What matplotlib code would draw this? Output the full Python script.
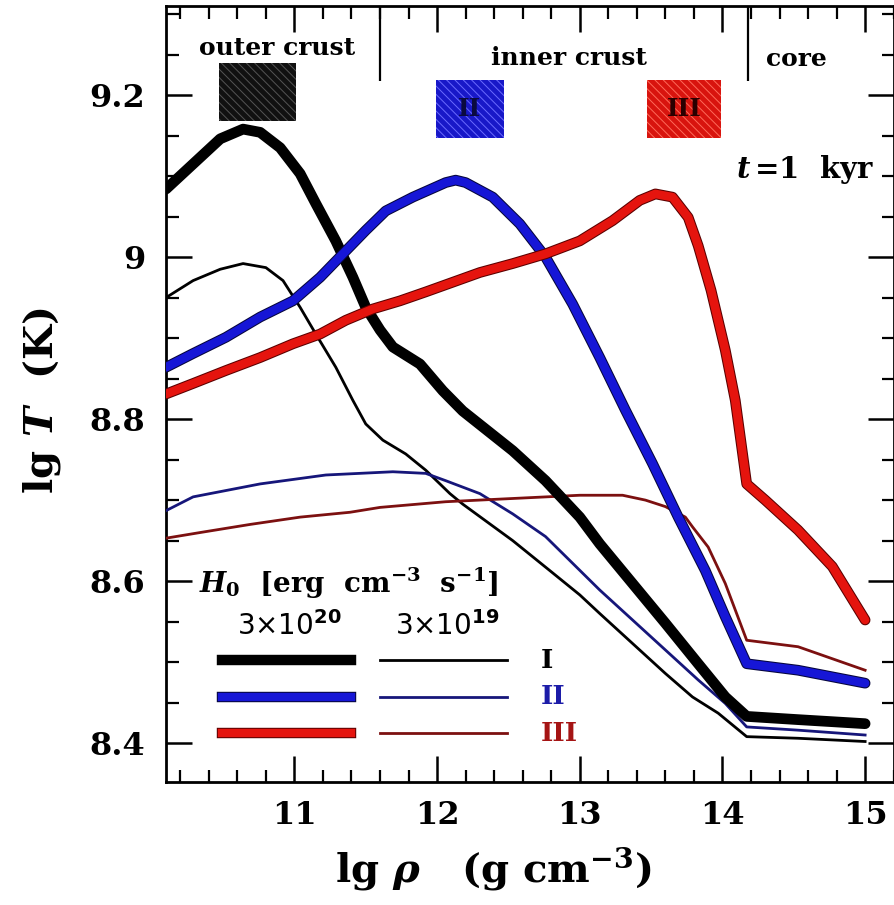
import matplotlib
matplotlib.use('Agg')
import matplotlib.pyplot as plt
import matplotlib.patheffects as pe
from matplotlib.patches import Rectangle
from matplotlib.ticker import MultipleLocator, FixedLocator

plt.rcParams['font.family'] = ['DejaVu Serif']
plt.rcParams['font.weight'] = 'bold'
plt.rcParams['mathtext.fontset'] = 'dejavuserif'
plt.rcParams['hatch.linewidth'] = 0.7

# lg rho [g/cm^3] and lg T [K] at t = 1 kyr
# heater I
rho_I_hi = [10.10, 10.29, 10.48, 10.64, 10.76, 10.90, 11.04, 11.15, 11.29, 11.41, 11.50, 11.60, 11.69,
            11.88, 12.04, 12.18, 12.53, 12.76, 13.00, 13.14, 13.37, 13.60, 13.83, 14.02, 14.17, 14.53, 15.00]
T_I_hi = [9.084, 9.115, 9.146, 9.158, 9.154, 9.135, 9.103, 9.066, 9.020, 8.975, 8.938, 8.910, 8.889,
          8.868, 8.835, 8.810, 8.761, 8.724, 8.679, 8.646, 8.597, 8.548, 8.498, 8.457, 8.433, 8.429, 8.424]
rho_I_lo = [10.10, 10.29, 10.48, 10.64, 10.80, 10.92, 11.04, 11.15, 11.29, 11.41, 11.50, 11.62, 11.78,
            11.92, 12.09, 12.18, 12.53, 12.79, 13.00, 13.14, 13.37, 13.60, 13.79, 13.97, 14.17, 14.53, 15.00]
T_I_lo = [8.950, 8.971, 8.985, 8.992, 8.987, 8.971, 8.938, 8.905, 8.864, 8.823, 8.794, 8.774, 8.757,
          8.737, 8.708, 8.695, 8.650, 8.613, 8.583, 8.560, 8.523, 8.486, 8.457, 8.437, 8.408, 8.406, 8.402]
# heater II
rho_II_hi = [10.10, 10.29, 10.52, 10.76, 10.99, 11.18, 11.34, 11.50, 11.64, 11.83, 12.06, 12.13, 12.20,
             12.39, 12.58, 12.76, 12.95, 13.14, 13.32, 13.51, 13.69, 13.88, 14.02, 14.17, 14.53, 15.00]
T_II_hi = [8.864, 8.881, 8.901, 8.926, 8.946, 8.975, 9.004, 9.033, 9.057, 9.074, 9.092, 9.095, 9.092,
           9.074, 9.041, 9.000, 8.942, 8.876, 8.811, 8.745, 8.679, 8.613, 8.556, 8.498, 8.490, 8.474]
rho_II_lo = [10.10, 10.29, 10.76, 11.22, 11.69, 11.92, 12.06, 12.30, 12.53, 12.76, 12.95, 13.14, 13.37,
             13.60, 13.83, 14.02, 14.17, 14.53, 15.00]
T_II_lo = [8.687, 8.704, 8.720, 8.731, 8.735, 8.733, 8.724, 8.708, 8.683, 8.655, 8.622, 8.589, 8.552,
           8.515, 8.478, 8.449, 8.420, 8.416, 8.410]
# heater III
rho_III_hi = [10.10, 10.29, 10.52, 10.76, 10.99, 11.18, 11.36, 11.55, 11.74, 11.92, 12.11, 12.30, 12.53,
              12.76, 13.00, 13.23, 13.42, 13.53, 13.65, 13.76, 13.83, 13.92, 13.97, 14.02, 14.09, 14.17,
              14.30, 14.53, 14.77, 15.00]
T_III_hi = [8.831, 8.844, 8.860, 8.876, 8.893, 8.905, 8.922, 8.936, 8.946, 8.957, 8.969, 8.981, 8.992,
            9.004, 9.020, 9.045, 9.070, 9.078, 9.074, 9.049, 9.014, 8.959, 8.922, 8.885, 8.823, 8.720,
            8.700, 8.663, 8.618, 8.552]
rho_III_lo = [10.10, 10.34, 10.69, 11.04, 11.39, 11.60, 12.06, 12.53, 13.00, 13.30, 13.46, 13.60, 13.74,
              13.79, 13.90, 14.02, 14.17, 14.53, 15.00]
T_III_lo = [8.653, 8.660, 8.670, 8.679, 8.685, 8.691, 8.698, 8.702, 8.706, 8.706, 8.700, 8.692, 8.679,
            8.667, 8.642, 8.597, 8.527, 8.519, 8.490]

# heater layers (lg rho range)
heater_names = ['I', 'II', 'III']
heater_rho = [(10.47, 11.01), (11.99, 12.47), (13.47, 13.99)]
heater_T = [(9.168, 9.239), (9.147, 9.218), (9.147, 9.218)]

# boundaries and region names
bounds = [11.6, 14.18]
regions = ['outer crust', 'inner crust', 'core']

xticks = [11, 12, 13, 14, 15]
yticks = [8.4, 8.6, 8.8, 9.0, 9.2]
ytick_labels = ['8.4', '8.6', '8.8', '9', '9.2']

hi_label = '3×10$^{20}$'
lo_label = '3×10$^{19}$'

thick_col = ['#000000', '#1616d6', '#e5140e']
thick_edge = ['#000000', '#06063c', '#5a0000']
thin_col = ['#000000', '#16167a', '#7c1010']
name_col = ['#000000', '#1c1ca8', '#a51414']
box_col = ['#111111', '#1818c8', '#d8140e']
box_hatch = ['#555555', '#6a6aff', '#ff6a5a']
box_txt = [None, '#0a0a40', '#2a0000']

hi = [(rho_I_hi, T_I_hi), (rho_II_hi, T_II_hi), (rho_III_hi, T_III_hi)]
lo = [(rho_I_lo, T_I_lo), (rho_II_lo, T_II_lo), (rho_III_lo, T_III_lo)]

fig = plt.figure(figsize=(8.95, 9.05), dpi=100)
ax = fig.add_axes([0.1855, 0.1359, 0.8130, 0.8575])

for i in range(3):
    ax.plot(lo[i][0], lo[i][1], color=thin_col[i], lw=2.0, solid_joinstyle='round', zorder=3)
for i in range(3):
    ax.plot(hi[i][0], hi[i][1], color=thick_col[i], lw=6.2, solid_joinstyle='round',
            solid_capstyle='round', zorder=4,
            path_effects=[pe.Stroke(linewidth=7.7, foreground=thick_edge[i]), pe.Normal()])

# heater boxes
for i in range(3):
    (x0, x1), (y0, y1) = heater_rho[i], heater_T[i]
    ax.add_patch(Rectangle((x0, y0), x1 - x0, y1 - y0, facecolor=box_col[i],
                           edgecolor=box_hatch[i], hatch='\\\\\\\\', lw=0, zorder=2))
    if box_txt[i]:
        ax.text((x0 + x1) / 2, (y0 + y1) / 2, heater_names[i], color=box_txt[i], fontsize=18,
                ha='center', va='center', zorder=3)

ax.vlines(bounds, 9.2176, 9.31, color='k', lw=1.6)
ax.text(10.876, 9.258, regions[0], fontsize=18, ha='center', va='center')
ax.text(12.925, 9.246, regions[1], fontsize=18, ha='center', va='center')
ax.text(14.516, 9.245, regions[2], fontsize=18, ha='center', va='center')
ax.text(14.58, 9.108, '$t\\,$=1  kyr', fontsize=21, ha='center', va='center')

# legend
ax.text(10.33, 8.597, '$H_0$  [erg  cm$^{-3}$  s$^{-1}$]', fontsize=20, ha='left', va='center')
ax.text(10.967, 8.544, hi_label, fontsize=20, ha='center', va='center', family='DejaVu Sans',
        weight='normal', math_fontfamily='dejavusans')
ax.text(12.072, 8.544, lo_label, fontsize=20, ha='center', va='center', family='DejaVu Sans',
        weight='normal', math_fontfamily='dejavusans')
leg_y = [8.5025, 8.457, 8.412]
for i in range(3):
    ax.plot([10.49, 11.40], [leg_y[i], leg_y[i]], color=thick_col[i], lw=6.0,
            path_effects=[pe.Stroke(linewidth=7.5, foreground=thick_edge[i]), pe.Normal()])
    ax.plot([11.60, 12.49], [leg_y[i], leg_y[i]], color=thin_col[i], lw=2.0)
    ax.text(12.727, leg_y[i], heater_names[i], color=name_col[i], fontsize=19, ha='left', va='center')

ax.set_xlim(10.1, 15.2)
ax.set_ylim(8.352, 9.31)
ax.xaxis.set_major_locator(FixedLocator(xticks))
ax.xaxis.set_minor_locator(MultipleLocator(0.2))
ax.yaxis.set_major_locator(FixedLocator(yticks))
ax.set_yticklabels(ytick_labels)
ax.yaxis.set_minor_locator(MultipleLocator(0.05))
ax.tick_params(which='both', direction='in', top=True, right=True, labelsize=23)
ax.tick_params(which='major', length=19, width=1.8)
ax.tick_params(which='minor', length=9, width=1.6)
ax.tick_params(axis='x', pad=13)
ax.tick_params(axis='y', pad=15)
for s in ax.spines.values():
    s.set_linewidth(2)

ax.text(0.449, -0.111, 'lg $\\rho$   (g cm$^{-3}$)', transform=ax.transAxes, fontsize=29,
        ha='center', va='center')
ax.text(-0.171, 0.492, 'lg $T$  (K)', transform=ax.transAxes, fontsize=29,
        ha='center', va='center', rotation=90)

fig.savefig('out.png', dpi=100)
